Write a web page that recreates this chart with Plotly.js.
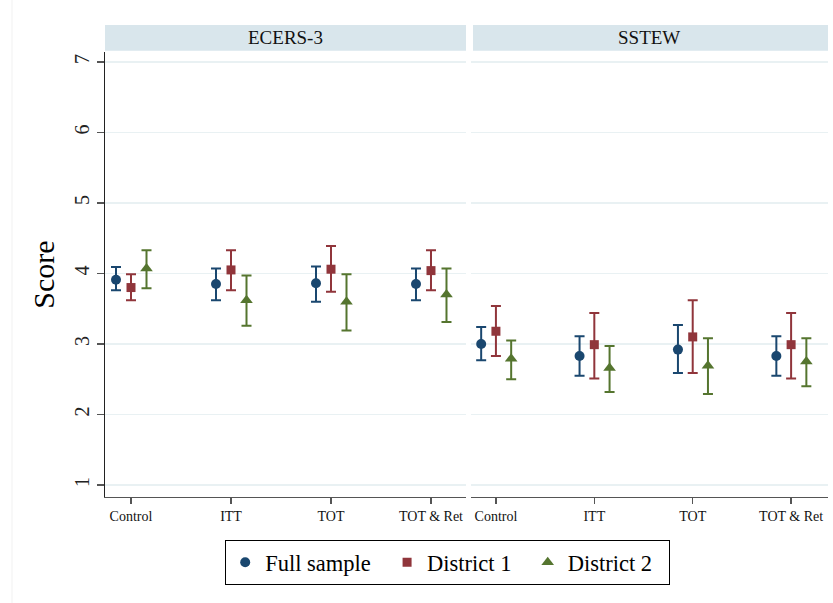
<!DOCTYPE html>
<html>
<head>
<meta charset="utf-8">
<script src="https://cdn.plot.ly/plotly-3.0.1.min.js"></script>
<style>html,body{margin:0;padding:0;background:#fff;}#chart{width:833px;height:603px;}</style>
</head>
<body>
<div id="chart"></div>
<script>
// Categories and panels
const categories = ['Control', 'ITT', 'TOT', 'TOT & Ret'];
const panels = ['ECERS-3', 'SSTEW'];
const seriesNames = ['Full sample', 'District 1', 'District 2'];

// ECERS-3 point estimates and 95% CI bounds
const ecersFull   = [3.91, 3.85, 3.86, 3.85];
const ecersFullLo = [3.76, 3.62, 3.60, 3.62];
const ecersFullHi = [4.09, 4.07, 4.10, 4.07];
const ecersD1     = [3.80, 4.05, 4.06, 4.04];
const ecersD1Lo   = [3.62, 3.76, 3.74, 3.76];
const ecersD1Hi   = [3.99, 4.33, 4.39, 4.33];
const ecersD2     = [4.07, 3.62, 3.60, 3.70];
const ecersD2Lo   = [3.79, 3.26, 3.19, 3.31];
const ecersD2Hi   = [4.33, 3.97, 3.99, 4.07];

// SSTEW point estimates and 95% CI bounds
const sstewFull   = [3.00, 2.83, 2.92, 2.83];
const sstewFullLo = [2.77, 2.55, 2.59, 2.55];
const sstewFullHi = [3.24, 3.11, 3.27, 3.11];
const sstewD1     = [3.18, 2.99, 3.10, 2.99];
const sstewD1Lo   = [2.83, 2.51, 2.59, 2.51];
const sstewD1Hi   = [3.54, 3.44, 3.62, 3.44];
const sstewD2     = [2.79, 2.66, 2.69, 2.75];
const sstewD2Lo   = [2.50, 2.32, 2.29, 2.40];
const sstewD2Hi   = [3.05, 2.97, 3.08, 3.08];

const yTicks = [1, 2, 3, 4, 5, 6, 7];

// styling
const colors = ['#1a476f', '#90353b', '#55752f'];
const symbols = ['circle', 'square', 'triangle-up'];
const sizes = [10, 9, 11];
const offsets = [-0.15, 0, 0.155];
const serif = 'Liberation Serif, Times New Roman, serif';
const pad = '\u00a0\u00a0';

const panelData = [
  [[ecersFull, ecersFullLo, ecersFullHi], [ecersD1, ecersD1Lo, ecersD1Hi], [ecersD2, ecersD2Lo, ecersD2Hi]],
  [[sstewFull, sstewFullLo, sstewFullHi], [sstewD1, sstewD1Lo, sstewD1Hi], [sstewD2, sstewD2Lo, sstewD2Hi]]
];

const traces = [];
panelData.forEach((series, p) => {
  series.forEach((s, k) => {
    const [est, lo, hi] = s;
    traces.push({
      type: 'scatter', mode: 'markers',
      name: seriesNames[k] + pad,
      legendgroup: seriesNames[k],
      showlegend: p === 0,
      xaxis: p === 0 ? 'x' : 'x2',
      yaxis: p === 0 ? 'y' : 'y2',
      x: categories.map((c, i) => i + offsets[k]),
      y: est,
      error_y: {
        type: 'data', symmetric: false,
        array: est.map((v, i) => hi[i] - v),
        arrayminus: est.map((v, i) => v - lo[i]),
        color: colors[k], thickness: 2, width: 5
      },
      marker: { color: colors[k], symbol: symbols[k], size: sizes[k] },
      hoverinfo: 'x+y'
    });
  });
});

const plotW = 833 - 105 - 5;
const plotH = 603 - 52 - 106;
const stripTop = 1 + 27 / plotH;
const xCommon = {
  tickmode: 'array',
  tickvals: categories.map((c, i) => i),
  ticktext: categories,
  ticks: 'outside', ticklen: 6, tickcolor: '#555', tickwidth: 1.3,
  showline: true, linecolor: '#555', linewidth: 1.3,
  showgrid: false, zeroline: false,
  tickfont: { family: serif, size: 14, color: '#111' },
  anchor: 'y'
};
const yCommon = {
  range: [0.83, 7.14],
  tickmode: 'array', tickvals: yTicks,
  showgrid: true, gridcolor: '#e9f1f3', gridwidth: 1.3,
  zeroline: false
};

const layout = {
  width: 833, height: 603,
  margin: { l: 105, r: 5, t: 52, b: 106 },
  paper_bgcolor: '#ffffff', plot_bgcolor: '#ffffff',
  showlegend: true,
  xaxis: Object.assign({}, xCommon, { domain: [0, 0.4993], range: [-0.26, 3.35], anchor: 'y' }),
  xaxis2: Object.assign({}, xCommon, { domain: [0.506, 1], range: [-0.255, 3.375], anchor: 'y2' }),
  yaxis: Object.assign({}, yCommon, {
    anchor: 'x',
    showline: true, linecolor: '#222', linewidth: 1.3,
    ticks: 'outside', ticklen: 7, tickcolor: '#555', tickwidth: 1.3,
    tickangle: -90,
    tickfont: { family: serif, size: 20, color: '#222' },
    title: { text: 'Score', font: { family: serif, size: 30, color: '#000' }, standoff: 7 }
  }),
  yaxis2: Object.assign({}, yCommon, {
    anchor: 'x2', matches: 'y',
    showline: false, ticks: '', showticklabels: false
  }),
  legend: {
    orientation: 'h',
    x: 0.474, xanchor: 'center',
    y: -0.097, yanchor: 'top',
    bordercolor: '#000', borderwidth: 1,
    font: { family: serif, size: 22.5, color: '#000' },
    bgcolor: '#fff'
  },
  shapes: [
    { type: 'rect', xref: 'x domain', yref: 'paper', x0: 0, x1: 1, y0: 1.003, y1: stripTop, fillcolor: '#d9e6ec', line: { width: 0 }, layer: 'below' },
    { type: 'rect', xref: 'x2 domain', yref: 'paper', x0: 0.006, x1: 1, y0: 1.003, y1: stripTop, fillcolor: '#d9e6ec', line: { width: 0 }, layer: 'below' },
    { type: 'line', xref: 'paper', yref: 'paper', x0: -93 / plotW, x1: -93 / plotW, y0: -106 / plotH, y1: 1 + 52 / plotH, line: { color: '#f1f1f1', width: 1 }, layer: 'below' }
  ],
  annotations: panels.map((t, p) => ({
    text: t, xref: p === 0 ? 'x domain' : 'x2 domain', yref: 'paper',
    x: 0.5, y: (1.003 + stripTop) / 2, xanchor: 'center', yanchor: 'middle',
    showarrow: false, font: { family: serif, size: 19, color: '#111' }
  }))
};

Plotly.newPlot('chart', traces, layout, { displayModeBar: false, staticPlot: true });
</script>
</body>
</html>
